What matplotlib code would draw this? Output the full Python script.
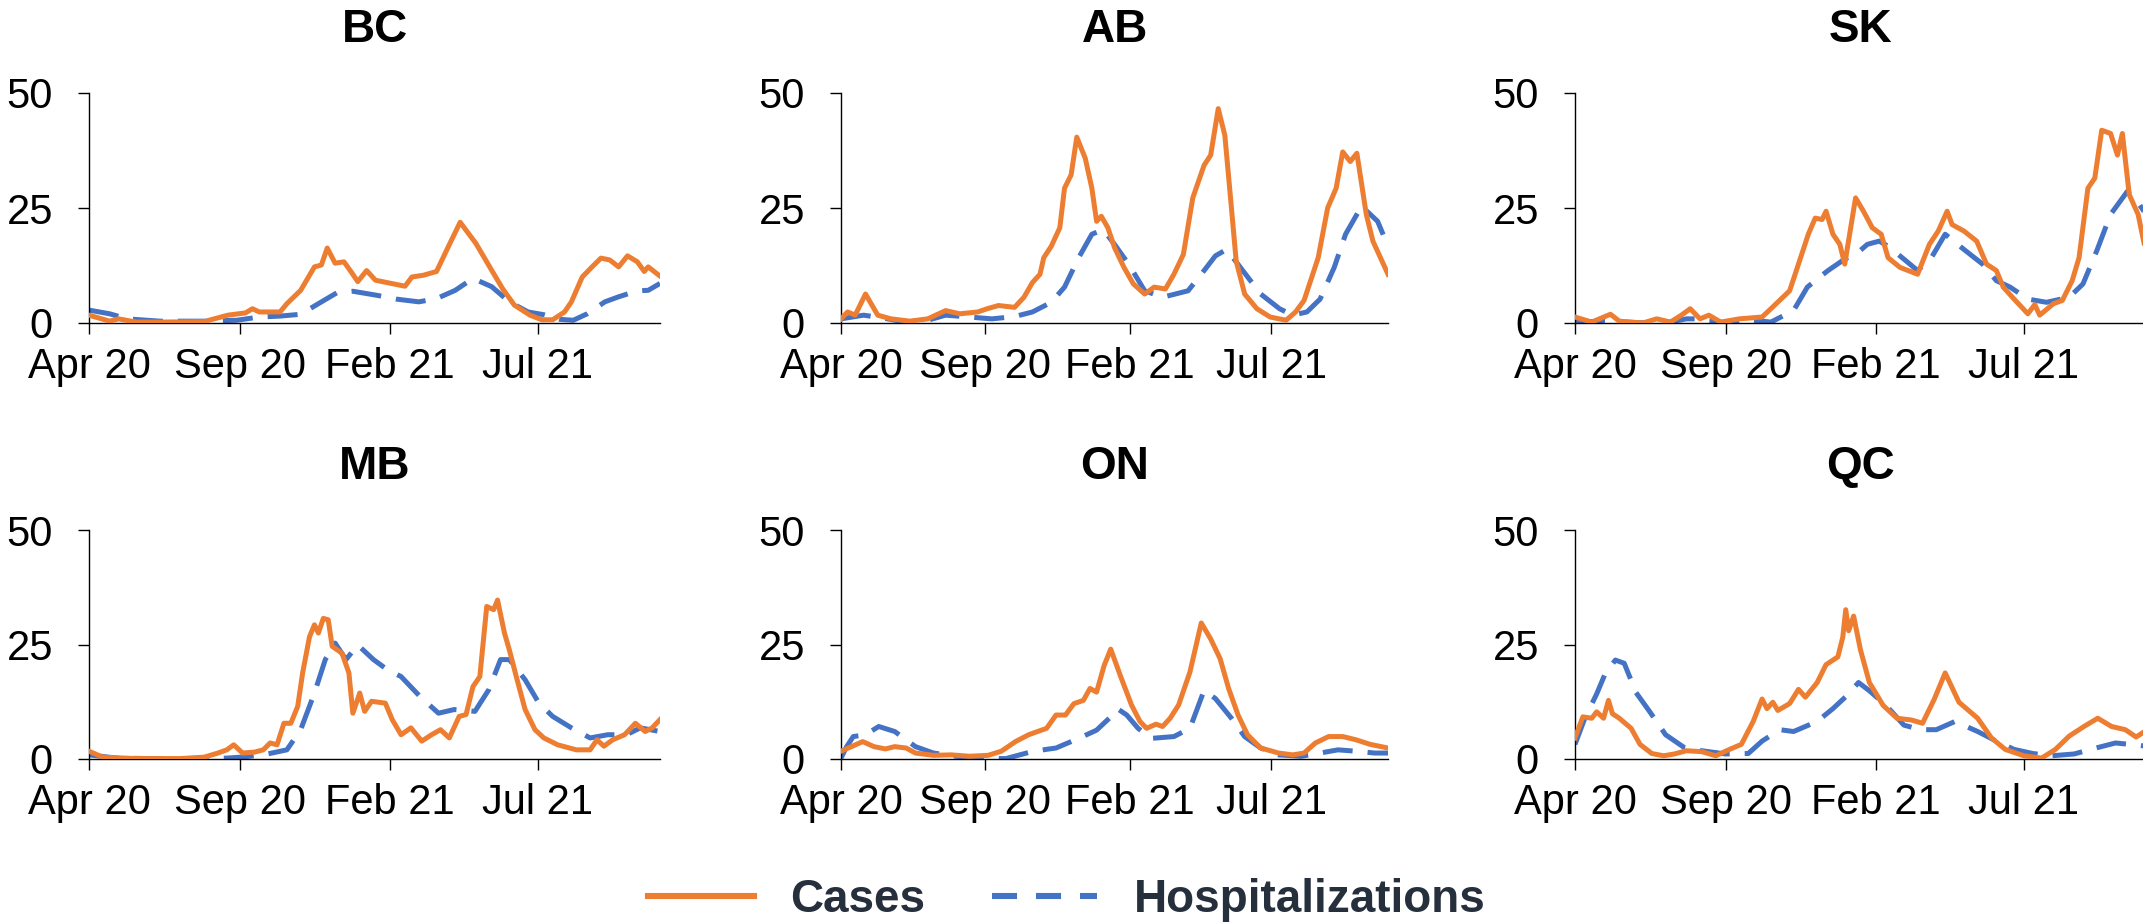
from __future__ import annotations

import matplotlib

matplotlib.use("Agg")
import matplotlib.pyplot as plt
from matplotlib.lines import Line2D

plt.rcParams["font.family"] = ["Liberation Sans", "DejaVu Sans"]

CASE_COLOR = "#ED7D31"
HOSP_COLOR = "#4472C4"
LEGEND_TEXT = "#262F3C"

# x values are days since 1 Apr 2020; y values per 100k
TICK_DAYS = [0, 153, 306, 456]
TICK_LABELS = ["Apr 20", "Sep 20", "Feb 21", "Jul 21"]
X_MAX = 580

BC_CASE_DAYS = [0, 21, 30, 48, 72, 118, 122, 141, 159, 166, 173, 194, 201, 215, 229, 236, 242, 250, 259, 266,
                273, 282, 291, 307, 321, 328, 340, 353, 365, 377, 393, 407, 420, 432, 448, 460, 471, 483, 490,
                501, 511, 520, 529, 538, 547, 557, 564, 568, 580]
BC_CASES = [1.7, 0.4, 0.9, 0.2, 0.2, 0.3, 0.6, 1.7, 2.2, 3.1, 2.4, 2.4, 4.2, 7.1, 12.2, 12.6, 16.3, 13.0, 13.3,
            11.2, 9.0, 11.4, 9.3, 8.6, 8.0, 10.0, 10.4, 11.2, 16.6, 21.9, 17.3, 12.2, 7.5, 3.9, 1.7, 0.7, 0.7,
            2.4, 4.6, 10.0, 12.2, 14.1, 13.7, 12.2, 14.6, 13.3, 11.2, 12.2, 10.2]
BC_HOSP_DAYS = [0, 21, 39, 72, 118, 150, 173, 194, 215, 233, 252, 268, 293, 312, 335, 353, 372, 390, 409, 427,
                446, 462, 478, 492, 506, 524, 538, 557, 568, 580]
BC_HOSP = [2.8, 2.0, 0.9, 0.4, 0.4, 0.6, 1.3, 1.5, 1.9, 4.2, 6.6, 6.9, 6.0, 5.2, 4.6, 5.3, 7.1, 9.7, 7.9, 4.6,
           2.4, 1.8, 0.8, 0.6, 2.0, 4.6, 5.7, 7.0, 7.1, 8.6]

AB_CASE_DAYS = [0, 7, 15, 26, 39, 53, 73, 92, 111, 126, 145, 155, 167, 184, 194, 203, 211, 215, 223, 232, 237,
                244, 250, 259, 266, 271, 276, 283, 290, 300, 310, 322, 332, 344, 353, 363, 373, 385, 392, 400,
                407, 414, 419, 428, 441, 455, 472, 482, 491, 506, 516, 525, 532, 540, 547, 557, 564, 580]
AB_CASES = [0.9, 2.4, 1.7, 6.3, 1.7, 0.9, 0.4, 0.9, 2.7, 2.0, 2.4, 3.1, 3.8, 3.4, 5.6, 8.8, 10.6, 14.2, 16.7,
            20.7, 29.3, 32.2, 40.4, 35.8, 29.3, 22.1, 23.2, 20.7, 16.4, 12.1, 8.5, 6.3, 7.8, 7.4, 10.6, 14.9,
            27.2, 34.3, 36.5, 46.6, 40.8, 25.0, 13.5, 6.3, 3.1, 1.3, 0.6, 2.4, 4.9, 14.2, 25.0, 29.3, 37.2,
            35.1, 36.9, 23.6, 17.8, 10.6]
AB_HOSP_DAYS = [0, 24, 44, 68, 92, 111, 136, 160, 184, 203, 223, 237, 252, 266, 278, 290, 305, 322, 341, 368,
                385, 397, 409, 426, 445, 465, 479, 494, 508, 523, 535, 552, 569, 580]
AB_HOSP = [0.9, 1.7, 1.1, 0.2, 0.6, 1.7, 1.3, 0.9, 1.4, 2.4, 4.5, 7.8, 14.2, 19.3, 20.3, 17.1, 12.8, 7.0, 5.6,
           7.0, 11.4, 14.6, 16.0, 11.4, 6.3, 3.1, 1.7, 2.4, 5.2, 12.1, 19.3, 25.4, 22.1, 16.7]

SK_CASE_DAYS = [0, 17, 36, 45, 69, 83, 97, 108, 117, 127, 136, 148, 167, 190, 199, 218, 227, 237, 244, 251,
                255, 262, 269, 274, 285, 293, 302, 311, 318, 330, 348, 360, 369, 378, 383, 395, 408, 418, 428,
                435, 446, 460, 467, 472, 486, 495, 505, 512, 521, 528, 535, 544, 551, 556, 563, 572, 580]
SK_CASES = [1.3, 0.2, 1.9, 0.4, 0.0, 0.9, 0.2, 1.7, 3.1, 0.9, 1.7, 0.2, 0.9, 1.3, 3.1, 7.0, 12.8, 19.3, 22.8,
            22.5, 24.3, 19.3, 17.1, 12.8, 27.2, 24.3, 20.7, 19.3, 14.2, 12.1, 10.6, 17.1, 20.0, 24.3, 21.4,
            20.0, 17.8, 12.8, 11.4, 7.8, 5.2, 2.0, 4.0, 1.7, 4.2, 4.9, 9.2, 14.2, 29.3, 31.5, 41.9, 41.2,
            36.5, 41.2, 27.9, 23.6, 15.3]
SK_HOSP_DAYS = [0, 27, 73, 97, 113, 129, 153, 176, 199, 222, 236, 248, 257, 274, 285, 297, 309, 318, 334, 348,
                362, 376, 395, 414, 428, 442, 460, 479, 502, 516, 530, 544, 561, 570, 580]
SK_HOSP = [0.2, 0.4, 0.0, 0.2, 0.9, 0.9, 0.0, 0.7, 0.2, 2.7, 7.8, 9.9, 11.4, 13.9, 14.9, 17.1, 17.8, 16.7, 13.9,
           11.4, 14.2, 19.3, 16.0, 12.8, 9.2, 7.8, 5.2, 4.5, 5.6, 8.5, 15.7, 23.6, 28.6, 26.8, 23.6]

MB_CASE_DAYS = [0, 14, 47, 93, 117, 131, 140, 147, 156, 168, 177, 184, 191, 198, 205, 212, 217, 224, 229, 233,
                238, 243, 247, 257, 264, 268, 275, 280, 287, 301, 308, 317, 327, 338, 348, 357, 366, 376, 383,
                390, 397, 404, 411, 415, 422, 427, 434, 443, 453, 462, 476, 495, 509, 516, 523, 532, 544, 555,
                565, 572, 580]
MB_CASES = [1.7, 0.4, 0.1, 0.1, 0.4, 1.3, 2.0, 3.1, 1.3, 1.5, 2.0, 3.5, 3.1, 7.8, 7.8, 11.5, 18.8, 26.7, 29.3,
            27.5, 30.7, 30.4, 24.6, 23.1, 18.8, 10.0, 14.4, 10.4, 12.6, 12.2, 8.6, 5.3, 6.8, 3.9, 5.3, 6.4, 4.6,
            9.3, 9.7, 15.8, 18.0, 33.3, 32.6, 34.7, 27.5, 23.8, 18.0, 10.8, 6.4, 4.6, 3.1, 2.0, 2.0, 4.2, 2.8,
            4.2, 5.3, 7.8, 6.0, 6.8, 8.6]
MB_HOSP_DAYS = [0, 28, 93, 140, 154, 177, 201, 215, 229, 240, 250, 261, 273, 289, 303, 317, 336, 355, 371, 392,
                406, 418, 427, 443, 457, 471, 490, 509, 527, 546, 560, 580]
MB_HOSP = [0.9, 0.2, 0.0, 0.2, 0.4, 0.9, 2.0, 6.4, 14.4, 21.7, 25.3, 21.7, 24.9, 21.7, 19.5, 18.0, 13.7, 10.0,
           10.8, 10.4, 15.1, 21.7, 21.7, 17.3, 12.2, 9.3, 6.8, 4.6, 5.3, 5.3, 6.8, 6.0]

ON_CASE_DAYS = [0, 11, 23, 35, 47, 57, 69, 79, 98, 117, 136, 156, 170, 185, 199, 218, 228, 238, 247, 257, 264,
                271, 279, 286, 296, 308, 317, 324, 334, 341, 349, 358, 370, 382, 392, 402, 411, 421, 431, 445,
                464, 479, 491, 503, 517, 532, 546, 561, 580]
ON_CASES = [1.7, 2.7, 3.8, 2.7, 2.2, 2.7, 2.4, 1.3, 0.8, 0.9, 0.6, 0.8, 1.7, 3.8, 5.3, 6.7, 9.6, 9.6, 12.1,
            12.8, 15.4, 14.6, 20.4, 24.0, 18.3, 11.8, 8.2, 6.7, 7.6, 7.1, 8.9, 11.8, 19.0, 29.7, 26.2, 21.9,
            15.4, 9.6, 5.3, 2.4, 1.3, 0.9, 1.3, 3.5, 4.9, 4.9, 4.2, 3.2, 2.4]
ON_HOSP_DAYS = [0, 6, 13, 26, 40, 57, 79, 98, 122, 146, 175, 204, 228, 252, 271, 286, 293, 303, 315, 329, 353,
                370, 385, 397, 414, 428, 445, 464, 488, 508, 527, 546, 566, 580]
ON_HOSP = [0.2, 2.7, 4.9, 5.3, 7.1, 6.0, 2.7, 1.3, 0.6, 0.1, 0.1, 1.7, 2.4, 4.5, 6.3, 9.2, 11.0, 9.6, 6.7, 4.5,
           4.9, 6.7, 15.0, 13.2, 8.9, 4.9, 2.4, 0.9, 0.6, 1.3, 2.0, 1.7, 1.3, 1.3]

QC_CASE_DAYS = [0, 8, 17, 22, 29, 34, 38, 45, 57, 66, 78, 90, 101, 113, 129, 143, 157, 169, 181, 190, 195, 201,
                206, 218, 227, 234, 246, 255, 267, 272, 275, 278, 283, 290, 299, 313, 327, 342, 353, 365, 376,
                390, 409, 423, 437, 456, 474, 488, 502, 517, 531, 545, 559, 570, 580]
QC_CASES = [4.6, 9.2, 8.9, 10.3, 8.9, 12.8, 9.9, 8.9, 6.7, 3.2, 1.2, 0.7, 1.1, 1.8, 1.6, 0.7, 2.1, 3.2, 8.2,
            13.1, 11.0, 12.4, 10.6, 12.1, 15.2, 13.5, 16.7, 20.6, 22.3, 26.6, 32.6, 28.0, 31.2, 23.8, 16.7,
            11.7, 8.9, 8.5, 7.8, 13.1, 18.8, 12.4, 8.9, 4.6, 2.1, 0.7, 0.2, 2.1, 5.0, 7.1, 8.9, 7.1, 6.4, 4.8,
            6.2]
QC_HOSP_DAYS = [0, 10, 22, 31, 41, 50, 62, 76, 92, 111, 129, 153, 176, 190, 208, 222, 246, 262, 276, 288, 299,
                316, 334, 351, 367, 386, 409, 428, 446, 465, 484, 507, 531, 549, 563, 580]
QC_HOSP = [3.2, 8.9, 14.2, 18.8, 21.6, 20.9, 14.5, 10.3, 5.3, 2.5, 1.8, 1.1, 1.2, 3.9, 6.4, 6.0, 8.2, 11.0,
           13.8, 16.7, 14.9, 11.7, 7.4, 6.4, 6.4, 8.2, 6.0, 3.9, 2.1, 1.2, 0.7, 1.1, 2.5, 3.5, 3.2, 2.8]

PROVINCES = ["BC", "AB", "SK", "MB", "ON", "QC"]
SERIES = {
    "BC": (BC_CASE_DAYS, BC_CASES, BC_HOSP_DAYS, BC_HOSP),
    "AB": (AB_CASE_DAYS, AB_CASES, AB_HOSP_DAYS, AB_HOSP),
    "SK": (SK_CASE_DAYS, SK_CASES, SK_HOSP_DAYS, SK_HOSP),
    "MB": (MB_CASE_DAYS, MB_CASES, MB_HOSP_DAYS, MB_HOSP),
    "ON": (ON_CASE_DAYS, ON_CASES, ON_HOSP_DAYS, ON_HOSP),
    "QC": (QC_CASE_DAYS, QC_CASES, QC_HOSP_DAYS, QC_HOSP),
}

FIG_W, FIG_H = 2143, 923
# panel boxes in pixels: (left, right) per column, (top, bottom) per row
COLUMNS = [(89, 660), (841, 1388), (1575, 2146)]
ROWS = [(93, 323), (530, 759)]


def draw_panel(ax: plt.Axes, name: str) -> None:
    case_days, cases, hosp_days, hosp = SERIES[name]
    ax.plot(case_days, cases, color=CASE_COLOR, lw=3.6, solid_joinstyle="round", zorder=3)
    ax.plot(hosp_days, hosp, color=HOSP_COLOR, lw=3.6, dashes=(6, 3), zorder=2)

    ax.set_xlim(0, X_MAX)
    ax.set_ylim(0, 50)
    ax.set_xticks(TICK_DAYS)
    ax.set_xticklabels(TICK_LABELS)
    ax.set_yticks([0, 25, 50])
    for side in ("top", "right"):
        ax.spines[side].set_visible(False)
    for side in ("left", "bottom"):
        ax.spines[side].set_linewidth(1.0)
    ax.tick_params(axis="both", direction="out", length=8, width=1.0, labelsize=30)
    ax.tick_params(axis="x", pad=9)
    ax.tick_params(axis="y", pad=18)
    ax.set_title(name, fontsize=33, fontweight="bold", pad=37)


def main() -> int:
    fig = plt.figure(figsize=(FIG_W / 100, FIG_H / 100), dpi=100)

    for idx, name in enumerate(PROVINCES):
        left, right = COLUMNS[idx % 3]
        top, bottom = ROWS[idx // 3]
        ax = fig.add_axes([left / FIG_W, 1 - bottom / FIG_H, (right - left) / FIG_W, (bottom - top) / FIG_H])
        ax.patch.set_visible(False)
        draw_panel(ax, name)

    handles = [
        Line2D([], [], color=CASE_COLOR, lw=4.4),
        Line2D([], [], color=HOSP_COLOR, lw=4.4, dashes=(4.1, 3.1)),
    ]
    legend = fig.legend(
        handles,
        ["Cases", "Hospitalizations"],
        loc="center",
        bbox_to_anchor=(1067 / FIG_W, 1 - 900 / FIG_H),
        ncol=2,
        frameon=False,
        prop={"size": 33, "weight": "bold"},
        handlelength=2.3,
        handletextpad=0.8,
        columnspacing=1.45,
    )
    for text in legend.get_texts():
        text.set_color(LEGEND_TEXT)

    fig.savefig("out.png", dpi=100)
    plt.close(fig)
    return 0


if __name__ == "__main__":
    raise SystemExit(main())
